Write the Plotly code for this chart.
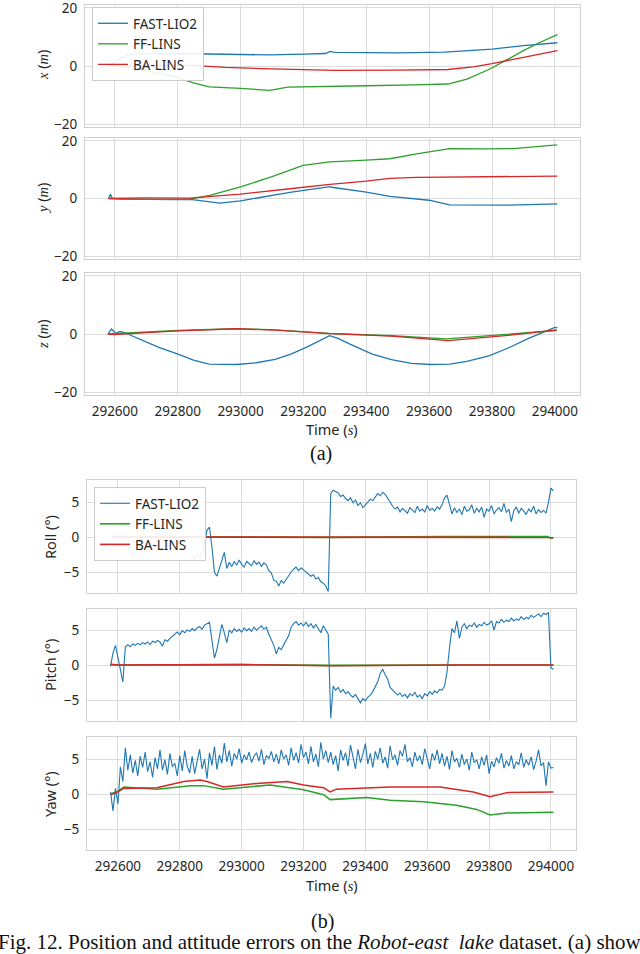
import plotly.graph_objects as go

# Figure size (px)
W, H = 640, 954

NAMES = ['FAST-LIO2', 'FF-LINS', 'BA-LINS']
COLORS = ['#1f77b4', '#2ca02c', '#d62728']

# ---------------- (a) position errors, metres ----------------
# x
T_X_FAST = [292580, 292600, 292640, 292700, 292800, 292900, 293000, 293090, 293200, 293270, 293285, 293300,
            293400, 293500, 293650, 293800, 293900, 294008]
X_FAST = [0.0, 1.5, 3.8, 4.2, 4.3, 4.1, 3.9, 3.8, 4.1, 4.3, 5.0, 4.7, 4.6, 4.5, 4.8, 5.8, 7.0, 8.0]
T_X_FF = [292580, 292650, 292750, 292800, 292850, 292900, 293000, 293093, 293150, 293250, 293400, 293550,
          293660, 293720, 293790, 293850, 293900, 293950, 294008]
X_FF = [0.0, -0.5, -2.8, -4.0, -5.8, -7.2, -7.7, -8.4, -7.3, -7.2, -6.8, -6.5, -6.2, -4.5, -1.2, 2.3, 5.3, 8.0, 10.8]
T_X_BA = [292580, 292700, 292850, 292950, 293100, 293300, 293500, 293660, 293740, 293800, 293900, 294008]
X_BA = [0.0, 0.3, 0.2, -0.5, -1.0, -1.5, -1.4, -1.2, -0.3, 0.8, 3.0, 5.3]

# y
T_Y_FAST = [292580, 292586, 292592, 292620, 292800, 292840, 292934, 293000, 293157, 293284, 293290, 293400,
            293475, 293600, 293665, 293846, 294008]
Y_FAST = [0.0, 1.5, 0.0, -0.2, -0.4, -0.3, -1.6, -0.8, 2.1, 4.1, 3.9, 2.2, 0.7, -0.6, -2.2, -2.3, -1.9]
T_Y_FF = [292580, 292700, 292838, 292902, 293000, 293100, 293199, 293284, 293400, 293475, 293560, 293665,
          293780, 293867, 294008]
Y_FF = [0.0, -0.3, -0.2, 1.1, 4.0, 7.6, 11.5, 12.7, 13.3, 13.8, 15.5, 17.3, 17.2, 17.3, 18.6]
T_Y_BA = [292580, 292700, 292838, 292998, 293150, 293284, 293400, 293475, 293560, 293665, 293800, 294008]
Y_BA = [0.0, 0.2, 0.1, 1.5, 3.3, 4.9, 6.0, 7.0, 7.3, 7.4, 7.4, 7.8]

# z
T_Z_FAST = [292578, 292589, 292604, 292616, 292628, 292653, 292700, 292740, 292801, 292850, 292900, 292987,
            293050, 293110, 293160, 293209, 293283, 293308, 293350, 293419, 293480, 293543, 293604, 293666,
            293720, 293790, 293850, 293913, 293987, 294000, 294008]
Z_FAST = [0.0, 1.7, 0.2, 0.9, 0.6, -0.6, -2.8, -4.6, -6.9, -9.0, -10.4, -10.5, -9.9, -8.7, -6.9, -4.6, -0.6,
          -1.4, -3.6, -6.9, -8.8, -10.1, -10.5, -10.4, -9.4, -7.5, -4.9, -1.7, 1.7, 2.3, 2.2]
T_Z_FF = [292578, 292700, 292801, 292987, 293110, 293283, 293481, 293654, 293852, 294006]
Z_FF = [0.0, 0.6, 1.2, 1.85, 1.4, 0.2, -0.6, -1.7, -0.2, 1.2]
T_Z_BA = [292578, 292600, 292700, 292801, 292987, 293110, 293283, 293481, 293660, 293852, 294006]
Z_BA = [0.0, -0.2, 0.5, 1.1, 1.8, 1.3, 0.1, -0.7, -2.3, -0.5, 1.4]

# ---------------- (b) attitude errors, degrees ----------------
# FAST-LIO2 attitude is sampled every 8 s
ROLL_FAST_T0 = 292840
ATT_FAST_T0 = 292576
ATT_DT = 8

ROLL_FAST = [
    -2.6, -3.2, -2.4, -3.0, -2.2, -1.0,
    1.0, 1.4, -1.5, -5.0, -5.6, -4.4,
    -3.2, -2.2, -4.5, -3.6, -4.2, -3.5, -4.0, -3.3, -3.9, -4.3, -3.5, -3.8, -4.1, -3.4, -3.9, -3.6, -4.2, -3.7,
    -4.0, -4.8, -5.1, -6.2, -6.3, -7.0, -6.2,
    -6.6, -6.0, -5.4, -5.0, -4.6, -4.3, -4.8, -4.4, -4.7, -5.0,
    -5.2, -5.6, -5.4, -6.0, -5.8, -6.4, -6.6, -7.0, -7.8,
    6.2, 6.7, 6.5, 6.3, 5.8, 6.0, 5.5, 5.2, 5.6, 4.9, 5.3,
    4.5, 4.9, 4.2, 4.6, 5.0, 5.4, 5.2, 5.8, 6.2, 5.9,
    6.4, 6.1, 5.6, 5.0, 4.4, 4.0,
    4.3, 3.6, 4.1, 3.8, 3.4, 4.2, 3.9, 3.5, 4.4, 3.7, 4.0, 3.6, 4.5, 3.8, 4.1, 3.7, 4.3, 4.0, 4.6,
    5.6, 6.0, 4.5, 3.3,
    4.2, 3.5, 4.0, 3.2, 4.4, 3.7, 3.9, 4.6, 3.4, 4.1, 3.6, 4.3, 2.8, 4.0, 3.7, 4.5, 3.3, 3.9, 4.2, 3.6,
    4.8, 3.5, 4.0, 2.2, 3.8, 4.3, 3.4, 4.1, 3.7, 3.2, 4.0, 3.6, 4.4, 3.3, 3.9, 3.5, 3.8, 3.4,
    5.0, 7.0, 6.6,
]
T_ROLL_FF = [292580, 293000, 293280, 293290, 293660, 293990, 294000, 294008]
ROLL_FF = [0.05, 0.0, 0.0, -0.05, 0.05, 0.05, -0.2, -0.1]
T_ROLL_BA = [292580, 293200, 293290, 293660, 294008]
ROLL_BA = [0.0, -0.02, -0.05, 0.0, -0.05]

PITCH_FAST = [
    -0.2, 1.7, 2.8, 1.0, -0.4, -2.4, 2.6,
    2.9, 2.6, 3.0, 2.8, 3.1, 2.9, 3.2, 3.0, 3.3, 2.9, 3.4, 3.2, 3.5, 3.3, 2.7, 3.6, 3.4, 3.8, 4.1,
    4.4, 4.7, 4.3, 4.9, 4.6, 5.0, 4.8, 5.2, 4.9, 5.3, 5.5, 5.1, 5.7, 5.9, 6.1,
    3.5, 1.0, 2.2, 4.0, 5.8, 4.6,
    3.2, 5.0, 4.6, 5.2, 4.8, 5.1, 4.7, 5.3, 4.9, 5.2, 4.8, 5.4, 5.0, 5.3, 5.6, 5.1, 5.4,
    4.4, 3.6, 2.8, 1.6, 2.5, 2.2,
    2.9, 3.4, 4.2, 5.4,
    5.9, 6.2, 5.7, 6.0, 5.6, 6.1, 5.5, 5.9, 5.3, 5.8, 5.2, 4.6, 5.6, 5.0, 4.4,
    -7.6, -3.0,
    -3.6, -3.2, -3.9, -3.5, -4.1, -3.8, -4.3, -4.6, -4.2, -4.9, -5.4, -4.8, -5.1, -4.6, -4.3, -3.8, -3.2, -2.4,
    -1.2, -0.6, -1.4, -2.0, -3.2, -3.6,
    -3.9, -4.3, -4.0, -4.5, -4.2, -4.7, -4.1, -4.4, -3.9, -4.6, -4.3, -4.8, -4.1, -4.4, -3.8, -4.2, -3.7, -4.0,
    -3.5, -3.6, -3.0,
    -1.0, 2.5, 5.2, 4.6, 6.3,
    3.8, 5.4, 5.9, 5.2, 5.7, 5.5, 6.0, 5.4, 5.8, 5.6, 6.1, 5.7, 5.9, 6.3, 5.0, 6.2, 6.0, 6.5, 6.1, 6.4,
    6.2, 6.7, 6.3, 6.6, 6.4, 6.9, 6.5, 6.8, 6.6, 7.1, 6.8, 7.0, 7.3, 6.9, 7.4, 7.2,
    7.5, -0.4, -0.6,
]
T_PITCH_FF = [292576, 292600, 293000, 293284, 293290, 293700, 294008]
PITCH_FF = [0.05, 0.0, 0.05, 0.0, -0.05, 0.0, 0.0]
T_PITCH_BA = [292576, 292600, 293000, 293284, 293290, 293700, 294008]
PITCH_BA = [0.1, 0.0, 0.05, 0.0, -0.1, 0.0, 0.0]

YAW_FAST = [
    0.3, -2.4, 0.8, -1.4, 3.9, 1.8, 6.6, 3.4,
    5.6, 3.0, 4.8, 2.6, 5.4, 3.8, 6.0, 3.2, 4.6, 2.4, 5.2, 3.6, 6.3, 3.4, 4.9, 2.8, 5.8, 3.9, 4.4, 2.6,
    5.5, 3.3, 6.2, 4.0, 3.0, 5.4, 2.9, 4.7, 6.4, 3.6, 5.0, 2.2, 5.9, 4.1, 6.8, 3.5, 5.6, 4.4,
    7.3, 4.6, 6.2, 4.0, 5.8, 5.0, 6.5, 4.4, 5.6, 4.9, 6.0, 4.5, 5.4, 5.9, 4.7, 6.4, 4.2, 5.5, 5.1, 6.1,
    4.6, 5.7, 4.3, 6.3, 5.0, 5.6, 4.1, 6.6, 4.8, 5.9, 4.4, 7.1, 5.2, 6.0, 4.3, 6.8, 4.6, 5.7, 3.9, 7.4,
    5.0, 6.2, 4.5,
    6.0, 4.2, 5.5, 3.3, 6.3, 4.8, 5.9, 4.0, 7.0, 5.1, 3.6, 6.4, 4.5, 5.7, 7.2, 4.3, 5.8, 3.8, 6.1, 5.0,
    6.6, 4.4, 5.3, 3.7, 6.9, 4.9, 5.6, 4.1, 6.2, 5.4, 7.1, 4.6, 5.2, 3.9, 6.0, 4.7, 5.5, 4.2, 6.5, 5.1,
    3.6, 5.8, 4.8, 6.3,
    4.3, 5.8, 4.0, 5.4, 3.5, 6.2, 4.6, 5.1, 3.8, 5.7, 4.2, 5.0, 3.4, 6.0, 4.5, 4.9, 3.6, 5.3, 4.1, 5.6,
    2.9, 4.7, 3.9, 5.2, 4.4, 5.8, 3.7, 4.8, 4.0, 5.5, 3.6, 4.6, 4.2, 5.9, 3.8, 4.9, 4.1, 5.3, 3.5, 4.7,
    6.3, 4.0, 4.5,
    1.2, 4.6, 3.7, 3.8,
]
T_YAW_FF = [292576, 292600, 292619, 292726, 292834, 292877, 292941, 293049, 293092, 293200, 293265, 293286,
            293405, 293480, 293588, 293695, 293760, 293803, 293857, 294008]
YAW_FF = [0.0, 0.4, 1.0, 0.7, 1.2, 1.2, 0.7, 1.2, 1.3, 0.6, -0.1, -0.8, -0.5, -0.9, -1.1, -1.6, -2.2, -3.0,
          -2.7, -2.6]
T_YAW_BA = [292576, 292600, 292619, 292726, 292813, 292866, 292888, 292941, 293049, 293147, 293200, 293265,
            293286, 293306, 293480, 293641, 293749, 293803, 293857, 294008]
YAW_BA = [-0.1, 0.3, 0.8, 0.9, 1.8, 2.0, 1.8, 1.0, 1.5, 1.8, 1.3, 0.9, 0.3, 0.7, 1.0, 1.0, 0.3, -0.4, 0.2, 0.3]

fig = go.Figure()


def add(n, k, y, t=None, t0=None, legend='legend', show=False, width=1.3):
    sfx = '' if n == 1 else str(n)
    xs = dict(x=t) if t is not None else dict(x0=t0, dx=ATT_DT)
    fig.add_trace(go.Scatter(y=y, mode='lines', name=NAMES[k], legend=legend, showlegend=show,
                             line=dict(color=COLORS[k], width=width),
                             xaxis='x' + sfx, yaxis='y' + sfx, **xs))


# (a)
add(1, 0, X_FAST, T_X_FAST, show=True)
add(1, 1, X_FF, T_X_FF, show=True)
add(1, 2, X_BA, T_X_BA, show=True)
add(2, 0, Y_FAST, T_Y_FAST)
add(2, 1, Y_FF, T_Y_FF)
add(2, 2, Y_BA, T_Y_BA)
add(3, 0, Z_FAST, T_Z_FAST)
add(3, 1, Z_FF, T_Z_FF)
add(3, 2, Z_BA, T_Z_BA)
# (b)
add(4, 0, ROLL_FAST, t0=ROLL_FAST_T0, legend='legend2', show=True, width=1.1)
add(4, 1, ROLL_FF, T_ROLL_FF, legend='legend2', show=True, width=1.6)
add(4, 2, ROLL_BA, T_ROLL_BA, legend='legend2', show=True, width=1.6)
add(5, 0, PITCH_FAST, t0=ATT_FAST_T0, legend='legend2', width=1.1)
add(5, 1, PITCH_FF, T_PITCH_FF, legend='legend2', width=1.6)
add(5, 2, PITCH_BA, T_PITCH_BA, legend='legend2', width=1.6)
add(6, 0, YAW_FAST, t0=ATT_FAST_T0, legend='legend2', width=1.1)
add(6, 1, YAW_FF, T_YAW_FF, legend='legend2', width=1.5)
add(6, 2, YAW_BA, T_YAW_BA, legend='legend2', width=1.5)

TEXT = '#262626'
GRID = '#dcdcdc'
FRAME = '#d0d0d0'
SANS = 'Noto Sans'
SERIF = 'Liberation Serif'
TICK_FONT = dict(family=SANS, size=13.5, color=TEXT)

# panel frames in px: top, bottom, left, right, y range, y ticks, x range, show x labels
PANELS = [
    (5, 127, 85, 580, [-21, 21], [-20, 0, 20], [292505, 294080], False),
    (138, 259, 85, 580, [-21, 21], [-20, 0, 20], [292505, 294080], False),
    (273, 395, 85, 580, [-21, 21], [-20, 0, 20], [292505, 294080], True),
    (480, 593, 87, 576, [-8.0, 8.15], [-5, 0, 5], [292500, 294081], False),
    (609, 721, 87, 576, [-8.0, 8.0], [-5, 0, 5], [292500, 294081], False),
    (737, 850, 87, 576, [-8.0, 8.15], [-5, 0, 5], [292500, 294081], True),
]

for n, (top, bot, left, right, yr, yt, xr, xlab) in enumerate(PANELS, 1):
    sfx = '' if n == 1 else str(n)
    common = dict(showline=True, mirror=True, linecolor=FRAME, linewidth=1.3, showgrid=True,
                  gridcolor=GRID, gridwidth=1, zeroline=False, ticks='', tickfont=TICK_FONT,
                  ticklabelstandoff=4, ticklabeloverflow='allow', automargin=False, fixedrange=True)
    fig.layout['xaxis' + sfx] = dict(domain=[left / W, right / W], range=xr, anchor='y' + sfx,
                                      tick0=292600, dtick=200, tickformat='d', showticklabels=xlab,
                                      **common)
    fig.layout['yaxis' + sfx] = dict(domain=[1 - bot / H, 1 - top / H], range=yr, anchor='x' + sfx,
                                      tickvals=yt, **common)


def it(s):
    return '<span style="font-family:%s"><i>%s</i></span>' % (SERIF, s)


annotations = []
# y titles
for label, px, py in [(it('x') + ' (' + it('m') + ')', 42, 65),
                      (it('y') + ' (' + it('m') + ')', 42, 199),
                      (it('z') + ' (' + it('m') + ')', 42, 334),
                      ('Roll (°)', 50, 537),
                      ('Pitch (°)', 50, 665),
                      ('Yaw (°)', 50, 794)]:
    annotations.append(dict(text=label, x=px / W, y=1 - py / H, xref='paper', yref='paper',
                            textangle=-90, showarrow=False, xanchor='center', yanchor='middle',
                            font=dict(family=SANS, size=14.5, color=TEXT)))
# x titles
for py in (429, 885):
    annotations.append(dict(text='Time (' + it('s') + ')', x=332 / W, y=1 - py / H, xref='paper',
                            yref='paper', showarrow=False, xanchor='center', yanchor='middle',
                            font=dict(family=SANS, size=14.5, color=TEXT)))
# sub-figure labels and caption
annotations.append(dict(text='(a)', x=321 / W, y=1 - 454 / H, xref='paper', yref='paper', showarrow=False,
                        xanchor='center', yanchor='middle', font=dict(family=SERIF, size=20, color='#111111')))
annotations.append(dict(text='(b)', x=322 / W, y=1 - 921 / H, xref='paper', yref='paper', showarrow=False,
                        xanchor='center', yanchor='middle', font=dict(family=SERIF, size=20, color='#111111')))
annotations.append(dict(text='Fig. 12. Position and attitude errors on the <i>Robot-east\u00a0 lake</i> dataset. '
                             '(a) shows the',
                        x=-4 / W, y=1 - 942 / H, xref='paper', yref='paper', showarrow=False,
                        xanchor='left', yanchor='middle', font=dict(family=SERIF, size=21, color='#111111')))

legend_style = dict(xanchor='left', yanchor='top', bgcolor='rgba(255,255,255,0.9)', bordercolor='#cccccc',
                    borderwidth=1, font=dict(family=SANS, size=13.5, color=TEXT), tracegroupgap=0,
                    itemwidth=30)

fig.update_layout(
    width=W, height=H, margin=dict(l=0, r=0, t=0, b=0),
    paper_bgcolor='white', plot_bgcolor='white',
    legend=dict(x=92 / W, y=1 - 7 / H, **legend_style),
    legend2=dict(x=94 / W, y=1 - 487 / H, **legend_style),
    annotations=annotations,
)

# the page's default body margin would shift the figure by 8 px
fig.write_html('out.html', config={'displayModeBar': False},
               post_script="document.body.style.margin='0';")
